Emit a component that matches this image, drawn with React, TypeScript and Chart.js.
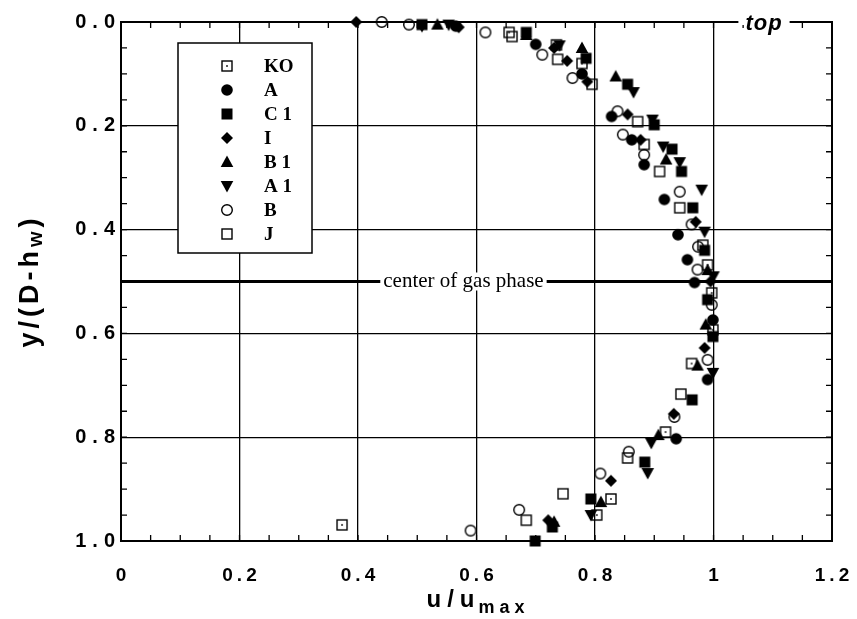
import React, { useEffect, useRef } from "react";
import { Chart, registerables } from "chart.js";
Chart.register(...registerables);

// ---------- data ----------
const SERIES_NAMES = ["KO", "A", "C 1", "I", "B 1", "A 1", "B", "J"];
const SERIES_MARKERS = ["squareDot", "circleFilled", "squareFilled", "diamond", "triUp", "triDown", "circleOpen", "squareOpen"];

const KO_X = [0.655, 0.735, 0.778, 0.99, 0.997, 0.999, 0.963, 0.919, 0.827, 0.803, 0.373];
const KO_Y = [0.02, 0.044, 0.08, 0.468, 0.522, 0.593, 0.658, 0.79, 0.919, 0.95, 0.969];

const A_X = [0.565, 0.70, 0.778, 0.828, 0.862, 0.883, 0.917, 0.94, 0.956, 0.968, 0.999, 0.99, 0.937];
const A_Y = [0.008, 0.043, 0.10, 0.182, 0.227, 0.275, 0.342, 0.41, 0.458, 0.502, 0.574, 0.689, 0.803];

const C1_X = [0.508, 0.684, 0.785, 0.855, 0.90, 0.93, 0.946, 0.965, 0.985, 0.99, 0.999, 0.964, 0.884, 0.793, 0.728, 0.699];
const C1_Y = [0.005, 0.02, 0.07, 0.12, 0.198, 0.245, 0.288, 0.358, 0.44, 0.535, 0.606, 0.728, 0.848, 0.919, 0.973, 1.0];

const I_X = [0.397, 0.57, 0.731, 0.753, 0.787, 0.855, 0.877, 0.97, 0.995, 0.985, 0.933, 0.827, 0.721];
const I_Y = [0.0, 0.01, 0.05, 0.075, 0.115, 0.178, 0.227, 0.385, 0.50, 0.628, 0.755, 0.884, 0.96];

const B1_X = [0.534, 0.684, 0.778, 0.835, 0.92, 0.99, 0.987, 0.973, 0.907, 0.81, 0.731];
const B1_Y = [0.005, 0.025, 0.05, 0.105, 0.265, 0.478, 0.583, 0.662, 0.796, 0.925, 0.963];

const A1_X = [0.508, 0.553, 0.74, 0.865, 0.897, 0.915, 0.943, 0.98, 0.985, 1.0, 0.999, 0.895, 0.889, 0.793];
const A1_Y = [0.008, 0.005, 0.045, 0.135, 0.188, 0.24, 0.27, 0.323, 0.404, 0.49, 0.676, 0.811, 0.869, 0.95];

const B_X = [0.44, 0.486, 0.615, 0.711, 0.762, 0.838, 0.847, 0.883, 0.943, 0.963, 0.974, 0.973, 0.997, 0.99, 0.934, 0.857, 0.809, 0.672, 0.59];
const B_Y = [0.0, 0.005, 0.02, 0.063, 0.108, 0.172, 0.217, 0.256, 0.327, 0.39, 0.433, 0.477, 0.545, 0.651, 0.761, 0.828, 0.87, 0.94, 0.98];

const J_X = [0.66, 0.737, 0.795, 0.872, 0.883, 0.909, 0.943, 0.982, 0.945, 0.855, 0.746, 0.684];
const J_Y = [0.028, 0.072, 0.12, 0.192, 0.236, 0.288, 0.358, 0.43, 0.717, 0.84, 0.909, 0.96];

const SERIES_X = [KO_X, A_X, C1_X, I_X, B1_X, A1_X, B_X, J_X];
const SERIES_Y = [KO_Y, A_Y, C1_Y, I_Y, B1_Y, A1_Y, B_Y, J_Y];

const X_TICKS = [0, 0.2, 0.4, 0.6, 0.8, 1.0, 1.2];
const X_TICK_LABELS = ["0", "0.2", "0.4", "0.6", "0.8", "1", "1.2"];
const Y_TICKS = [0, 0.2, 0.4, 0.6, 0.8, 1.0];
const Y_TICK_LABELS = ["0.0", "0.2", "0.4", "0.6", "0.8", "1.0"];
const CENTER_Y = 0.5;
const CENTER_LABEL = "center of gas phase";
const CENTER_LABEL_X = 0.578;
const TOP_LABEL = "top";

// ---------- drawing helpers ----------
function drawMarker(ctx: CanvasRenderingContext2D, kind: string, x: number, y: number) {
  ctx.save();
  ctx.fillStyle = "#000";
  ctx.strokeStyle = "#000";
  ctx.lineWidth = 1.4;
  ctx.beginPath();
  switch (kind) {
    case "squareDot":
      ctx.strokeRect(x - 5, y - 5, 10, 10);
      ctx.fillRect(x - 0.8, y - 0.8, 1.6, 1.6);
      break;
    case "circleFilled":
      ctx.arc(x, y, 5.8, 0, Math.PI * 2);
      ctx.fill();
      break;
    case "squareFilled":
      ctx.fillRect(x - 5.5, y - 5.5, 11, 11);
      break;
    case "diamond":
      ctx.moveTo(x, y - 6);
      ctx.lineTo(x + 6, y);
      ctx.lineTo(x, y + 6);
      ctx.lineTo(x - 6, y);
      ctx.closePath();
      ctx.fill();
      break;
    case "triUp":
      ctx.moveTo(x, y - 6.5);
      ctx.lineTo(x + 6.3, y + 5);
      ctx.lineTo(x - 6.3, y + 5);
      ctx.closePath();
      ctx.fill();
      break;
    case "triDown":
      ctx.moveTo(x - 6.3, y - 5);
      ctx.lineTo(x + 6.3, y - 5);
      ctx.lineTo(x, y + 6.5);
      ctx.closePath();
      ctx.fill();
      break;
    case "circleOpen":
      ctx.arc(x, y, 5.3, 0, Math.PI * 2);
      ctx.stroke();
      break;
    case "squareOpen":
      ctx.strokeRect(x - 5, y - 5, 10, 10);
      break;
  }
  ctx.restore();
}

function makeMarkerImage(kind: string): HTMLCanvasElement {
  const c = document.createElement("canvas");
  c.width = 16;
  c.height = 16;
  const ctx = c.getContext("2d")!;
  drawMarker(ctx, kind, 8, 8);
  return c;
}

function spacedText(ctx: CanvasRenderingContext2D, text: string, x: number, y: number, spacing: number, align: "left" | "center" | "right") {
  (ctx as any).letterSpacing = spacing + "px";
  ctx.textAlign = "left";
  const w = ctx.measureText(text).width - spacing;
  let sx = x;
  if (align === "center") sx = x - w / 2;
  else if (align === "right") sx = x - w;
  ctx.fillText(text, sx, y);
  (ctx as any).letterSpacing = "0px";
  return w;
}

const decorPlugin = {
  id: "decor",
  beforeDatasetsDraw(chart: any) {
    const { ctx, chartArea, scales } = chart;
    const xs = scales.x;
    const ys = scales.y;
    ctx.save();
    // minor ticks (inward) on all four sides
    ctx.strokeStyle = "#000";
    ctx.lineWidth = 1.3;
    ctx.beginPath();
    for (let i = 1; i < 24; i++) {
      const v = i * 0.05;
      const px = xs.getPixelForValue(v);
      ctx.moveTo(px, chartArea.bottom);
      ctx.lineTo(px, chartArea.bottom - 6);
      ctx.moveTo(px, chartArea.top);
      ctx.lineTo(px, chartArea.top + 6);
    }
    for (let i = 1; i < 20; i++) {
      const v = i * 0.05;
      const py = ys.getPixelForValue(v);
      ctx.moveTo(chartArea.left, py);
      ctx.lineTo(chartArea.left + 6, py);
      ctx.moveTo(chartArea.right, py);
      ctx.lineTo(chartArea.right - 6, py);
    }
    ctx.stroke();
    // frame
    ctx.lineWidth = 2;
    ctx.strokeRect(chartArea.left, chartArea.top, chartArea.right - chartArea.left, chartArea.bottom - chartArea.top);
    // center line
    const cy = ys.getPixelForValue(CENTER_Y);
    ctx.lineWidth = 3.2;
    ctx.beginPath();
    ctx.moveTo(chartArea.left, cy);
    ctx.lineTo(chartArea.right, cy);
    ctx.stroke();
    // center label with white background
    ctx.font = "21px 'Liberation Serif', 'Times New Roman', serif";
    const cw = ctx.measureText(CENTER_LABEL).width;
    const cx = xs.getPixelForValue(CENTER_LABEL_X);
    ctx.fillStyle = "#fff";
    ctx.fillRect(cx - cw / 2 - 3, cy - 9, cw + 6, 18);
    ctx.fillStyle = "#000";
    ctx.textAlign = "center";
    ctx.textBaseline = "middle";
    ctx.fillText(CENTER_LABEL, cx, cy);
    // "top" label on top border
    ctx.font = "italic bold 22px 'Liberation Sans', Arial, sans-serif";
    const tx = 764;
    ctx.textAlign = "left";
    (ctx as any).letterSpacing = "1px";
    const tw = ctx.measureText(TOP_LABEL).width;
    ctx.fillStyle = "#fff";
    ctx.fillRect(tx - tw / 2 - 7, chartArea.top - 3, tw + 14, 6);
    ctx.fillStyle = "#000";
    ctx.textBaseline = "alphabetic";
    ctx.fillText(TOP_LABEL, tx - tw / 2, chartArea.top + 8);
    (ctx as any).letterSpacing = "0px";
    ctx.restore();
  },
  afterDraw(chart: any) {
    const { ctx, chartArea, scales } = chart;
    const xs = scales.x;
    const ys = scales.y;
    ctx.save();
    ctx.fillStyle = "#000";
    // tick labels
    ctx.font = "bold 19px 'Liberation Sans', Arial, sans-serif";
    ctx.textBaseline = "middle";
    X_TICKS.forEach((v, i) => {
      spacedText(ctx, X_TICK_LABELS[i], xs.getPixelForValue(v), chartArea.bottom + 35, 4, "center");
    });
    ctx.font = "bold 20px 'Liberation Sans', Arial, sans-serif";
    Y_TICKS.forEach((v, i) => {
      spacedText(ctx, Y_TICK_LABELS[i], chartArea.left - 6, ys.getPixelForValue(v), 6, "right");
    });
    // x title u/u_max
    ctx.textBaseline = "alphabetic";
    ctx.font = "bold 24px 'Liberation Sans', Arial, sans-serif";
    (ctx as any).letterSpacing = "6px";
    const main = "u/u";
    const mw = ctx.measureText(main).width;
    ctx.font = "bold 18px 'Liberation Sans', Arial, sans-serif";
    (ctx as any).letterSpacing = "5px";
    const sub = "max";
    const sw = ctx.measureText(sub).width;
    const total = mw + sw;
    const xt0 = 479 - total / 2;
    ctx.font = "bold 24px 'Liberation Sans', Arial, sans-serif";
    (ctx as any).letterSpacing = "6px";
    ctx.fillText(main, xt0, 607);
    ctx.font = "bold 18px 'Liberation Sans', Arial, sans-serif";
    (ctx as any).letterSpacing = "5px";
    ctx.fillText(sub, xt0 + mw - 2, 613);
    // y title y/(D-h_w)
    ctx.save();
    ctx.translate(38, 281);
    ctx.rotate(-Math.PI / 2);
    ctx.font = "bold 27px 'Liberation Sans', Arial, sans-serif";
    (ctx as any).letterSpacing = "4px";
    const p1 = "y/(D-h";
    const p3 = ")";
    const w1 = ctx.measureText(p1).width;
    const w3 = ctx.measureText(p3).width;
    ctx.font = "bold 20px 'Liberation Sans', Arial, sans-serif";
    const p2 = "w";
    const w2 = ctx.measureText(p2).width;
    const tot = w1 + w2 + w3;
    let sx = -tot / 2;
    ctx.font = "bold 27px 'Liberation Sans', Arial, sans-serif";
    ctx.fillText(p1, sx, 0);
    sx += w1;
    ctx.font = "bold 20px 'Liberation Sans', Arial, sans-serif";
    ctx.fillText(p2, sx, 4);
    sx += w2;
    ctx.font = "bold 27px 'Liberation Sans', Arial, sans-serif";
    ctx.fillText(p3, sx, 0);
    ctx.restore();
    (ctx as any).letterSpacing = "0px";

    // legend box
    const lx = 178, ly = 43, lw = 134, lh = 210;
    ctx.fillStyle = "#fff";
    ctx.fillRect(lx, ly, lw, lh);
    ctx.strokeStyle = "#000";
    ctx.lineWidth = 1.5;
    ctx.strokeRect(lx, ly, lw, lh);
    ctx.fillStyle = "#000";
    ctx.font = "bold 19px 'Liberation Serif', 'Times New Roman', serif";
    ctx.textBaseline = "middle";
    ctx.textAlign = "left";
    SERIES_NAMES.forEach((name, i) => {
      const ry = 66 + i * 24;
      drawMarker(ctx, SERIES_MARKERS[i], 227, ry);
      ctx.fillStyle = "#000";
      ctx.fillText(name, 264, ry + 1);
    });
    ctx.restore();
  },
};

export default function App() {
  const ref = useRef<HTMLCanvasElement | null>(null);
  useEffect(() => {
    if (!ref.current) return;
    const datasets = SERIES_NAMES.map((name, i) => ({
      label: name,
      data: SERIES_X[i].map((x, j) => ({ x, y: SERIES_Y[i][j] })),
      pointStyle: makeMarkerImage(SERIES_MARKERS[i]),
      pointRadius: 6,
      showLine: false,
      clip: false as any,
    }));
    const chart = new Chart(ref.current, {
      type: "scatter",
      data: { datasets },
      options: {
        responsive: false,
        animation: false,
        devicePixelRatio: 1,
        layout: { padding: { left: 121, right: 25, top: 22, bottom: 78 } },
        plugins: { legend: { display: false }, tooltip: { enabled: false }, title: { display: false } },
        scales: {
          x: {
            type: "linear",
            min: 0,
            max: 1.2,
            ticks: { stepSize: 0.2, display: false },
            grid: { color: "#000", lineWidth: 1.3, drawTicks: false },
            border: { display: false },
          },
          y: {
            type: "linear",
            min: 0,
            max: 1,
            reverse: true,
            ticks: { stepSize: 0.2, display: false },
            grid: { color: "#000", lineWidth: 1.3, drawTicks: false },
            border: { display: false },
          },
        },
      },
      plugins: [decorPlugin],
    });
    return () => chart.destroy();
  }, []);
  return (
    <div style={{ position: "absolute", left: 0, top: 0, width: 857, height: 619, background: "#fff" }}>
      <canvas ref={ref} width={857} height={619} style={{ display: "block", width: 857, height: 619 }} />
    </div>
  );
}
